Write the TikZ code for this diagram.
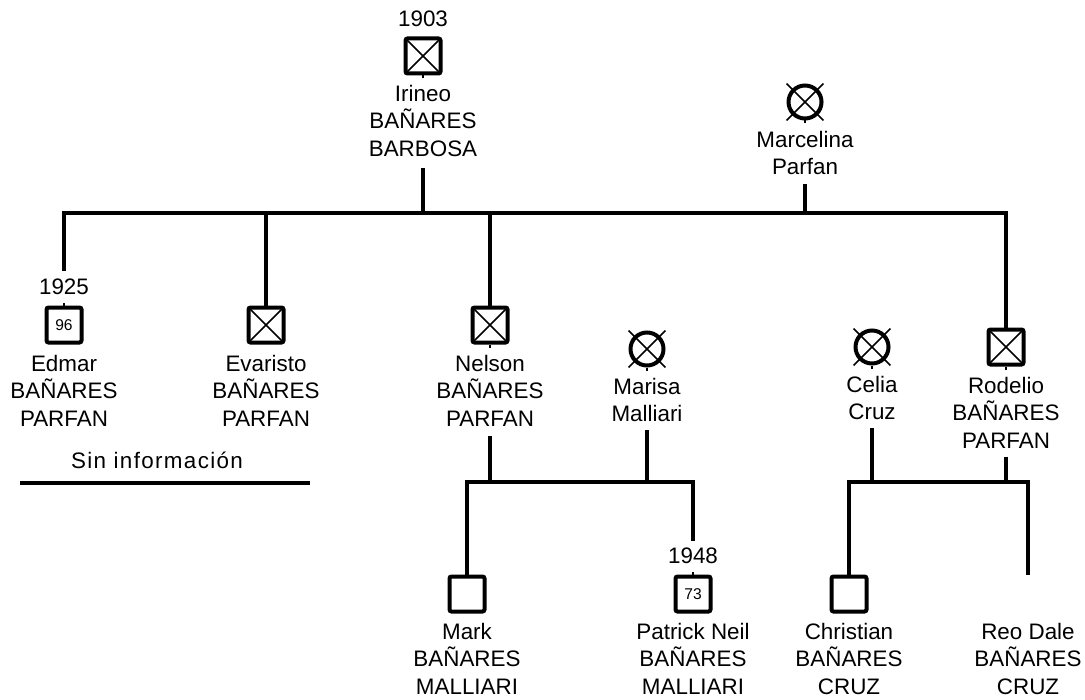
\documentclass[tikz,border=0pt]{standalone}
\usepackage{fontspec}
\setmainfont{Liberation Sans}
\usetikzlibrary{positioning}

\begin{document}
\begin{tikzpicture}[x=0.5pt, y=-0.5pt, node distance=5pt,
  person/.style={draw, line width=2pt, inner sep=0pt, minimum size=17.5pt, font=\fontsize{7.8}{9}\selectfont},
  male/.style={person, rectangle, rounded corners=1pt},
  female/.style={person, circle, minimum size=16.5pt},
  pname/.style={align=center, inner sep=0pt, font=\fontsize{11.2}{13.8}\selectfont},
  year/.style={inner sep=0pt, font=\fontsize{11.2}{13.8}\selectfont},
  rel/.style={line width=1.8pt},
  stub/.style={line width=1pt},
  xline/.style={line width=0.75pt}]

	\useasboundingbox (0,0) rectangle (1085,700);

	% first generation
	\node[male] (1) at (423,56) {};
	\node[year, above=4.5pt of 1] (1y) {1903};
	\node[pname, below=4.5pt of 1] (1t) {Irineo\\BAÑARES\\BARBOSA};

	\node[female] (2) at (805,102) {};
	\node[pname, below=5pt of 2] (2t) {Marcelina\\Parfan};

	% second generation
	\node[male] (3) at (64,325) {96};
	\node[year, above=5pt of 3] (3y) {1925};
	\node[pname, below=5pt of 3] (3t) {Edmar\\BAÑARES\\PARFAN};

	\node[male] (4) at (266,325) {};
	\node[pname, below=5pt of 4] (4t) {Evaristo\\BAÑARES\\PARFAN};

	\node[male] (5) at (490,325) {};
	\node[pname, below=5pt of 5] (5t) {Nelson\\BAÑARES\\PARFAN};

	\node[female] (6) at (647,349) {};
	\node[pname, below=5pt of 6] (6t) {Marisa\\Malliari};

	\node[female] (7) at (872,347) {};
	\node[pname, below=5pt of 7] (7t) {Celia\\Cruz};

	\node[male] (8) at (1006,347) {};
	\node[pname, below=5pt of 8] (8t) {Rodelio\\BAÑARES\\PARFAN};

	\node[pname, font=\fontsize{11.2}{13.8}\selectfont\addfontfeature{LetterSpace=6}] (si) at (157,460) {Sin información};
	\coordinate (s1) at (20,483);
	\coordinate (s2) at (310,483);
	\draw[rel] (s1) -- (s2);

	% third generation
	\node[male] (9) at (467,594) {};
	\node[pname, below=4.5pt of 9] (9t) {Mark\\BAÑARES\\MALLIARI};

	\node[male] (10) at (693,594) {73};
	\node[year, above=5pt of 10] (10y) {1948};
	\node[pname, below=4.5pt of 10] (10t) {Patrick Neil\\BAÑARES\\MALLIARI};

	\node[male] (11) at (849,594) {};
	\node[pname, below=4.5pt of 11] (11t) {Christian\\BAÑARES\\CRUZ};

	\node[male, draw=none] (12) at (1028,594) {};
	\node[pname, below=4.5pt of 12] (12t) {Reo Dale\\BAÑARES\\CRUZ};

	% deceased marks
	\foreach \n in {1,4,5,8}
		\draw[xline] ([shift={(-8.7pt,-8.7pt)}]\n.center) -- ([shift={(8.7pt,8.7pt)}]\n.center)
			([shift={(-8.7pt,8.7pt)}]\n.center) -- ([shift={(8.7pt,-8.7pt)}]\n.center);
	\foreach \n in {2,6,7}
		\draw[xline] ([shift={(-9.2pt,-9.2pt)}]\n.center) -- ([shift={(9.2pt,9.2pt)}]\n.center)
			([shift={(-9.2pt,9.2pt)}]\n.center) -- ([shift={(9.2pt,-9.2pt)}]\n.center);

	% short stubs
	\foreach \n in {1,2,5,6,7,8}
		\draw[stub] (\n.south) -- ++(0,3);
	\foreach \n in {3,10}
		\draw[stub] (\n.north) -- ++(0,-3);

	% Irineo-Marcelina family
	\coordinate (b1) at (423,213);
	\draw[rel] ([yshift=4pt]3y.north) |- (b1) -| (8.north);
	\draw[rel] ([yshift=-5.5pt]1t.south) -- (b1);
	\draw[rel] ([yshift=-4.5pt]2t.south) -- (2t.south |- b1);
	\foreach \n in {4,5}
		\draw[rel] (\n |- b1) -- (\n.north);

	% Nelson-Marisa family
	\coordinate (b2) at (580,482);
	\draw[rel] (9.north) |- (b2) -| ([yshift=3.5pt]10y.north);
	\draw[rel] ([yshift=-4.5pt]5t.south) -- (5t.south |- b2);
	\draw[rel] ([yshift=-4pt]6t.south) -- (6t.south |- b2);

	% Celia-Rodelio family
	\coordinate (b3) at (940,482);
	\draw[rel] (11.north) |- (b3) -| (12.north);
	\draw[rel] ([yshift=-4pt]7t.south) -- (7t.south |- b3);
	\draw[rel] ([yshift=-4pt]8t.south) -- (8 |- b3);

\end{tikzpicture}
\end{document}
